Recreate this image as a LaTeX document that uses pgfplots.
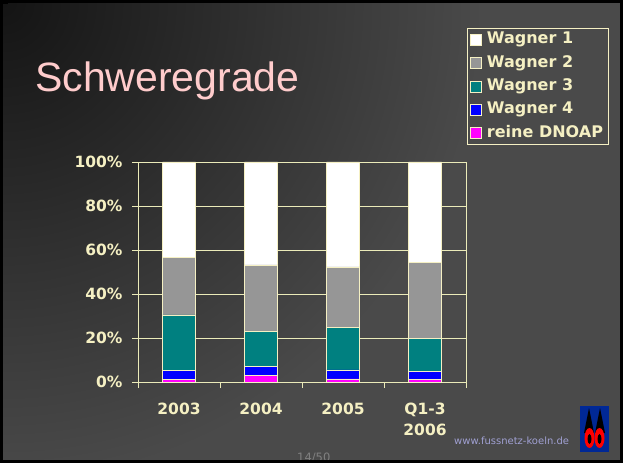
\documentclass[border=0pt]{standalone}
\usepackage{pgfplots}
\pgfplotsset{compat=1.18}
\usepackage{fontspec}
\setmainfont{DejaVu Sans}
\newfontfamily\arialfont{Liberation Sans}
\definecolor{cream}{RGB}{235,235,185}
\definecolor{crtxt}{RGB}{245,240,195}
\definecolor{titlepink}{RGB}{255,204,204}
\definecolor{wgray}{RGB}{150,150,150}
\definecolor{wteal}{RGB}{0,128,128}
\definecolor{wblue}{RGB}{0,0,255}
\definecolor{wmag}{RGB}{255,0,255}
\definecolor{bgdark}{RGB}{20,20,20}
\definecolor{bglight}{RGB}{74,74,74}
\definecolor{lavender}{RGB}{160,160,210}
\definecolor{logoblue}{RGB}{0,40,150}
\pgfplotsset{sq legend/.style={legend image code/.code={\draw[##1,draw=crtxt,line width=0.6pt] (0pt,-5.5pt) rectangle (11pt,5.5pt);}}}
\begin{document}
\begin{tikzpicture}[x=1pt,y=1pt]
\useasboundingbox (0,0) rectangle (623,463);
\fill[black] (0,0) rectangle (623,463);
\fill[bglight] (3,3) rectangle (620,460);
\begin{scope}
\clip (3,3) rectangle (620,460);
\shade[inner color=bgdark, outer color=bglight] (3,460) circle (480);
\end{scope}
\node[anchor=base west, text=titlepink, inner sep=0pt, font=\arialfont\fontsize{41}{41}\selectfont] at (35,371) {Schweregrade};
\begin{axis}[
  at={(138pt,81pt)}, anchor=south west,
  scale only axis, width=328pt, height=220pt,
  ybar stacked, bar width=33pt,
  xmin=-0.5, xmax=3.5, ymin=0, ymax=100,
  xtick={0,1,2,3}, xticklabels={2003,2004,2005,{Q1-3\\2006}},
  minor xtick={-0.5,0.5,1.5,2.5,3.5},
  ytick={0,20,40,60,80,100},
  yticklabels={0\%,20\%,40\%,60\%,80\%,100\%},
  tick pos=left, tick align=outside,
  major tick length=6pt, minor tick length=6pt,
  major x tick style={draw=none},
  ymajorgrids, grid style={cream, line width=0.7pt},
  axis line style={cream, line width=0.8pt},
  tick style={cream, line width=0.8pt},
  ticklabel style={text=crtxt, font=\bfseries\fontsize{15.5}{21}\selectfont},
  xticklabel style={align=center, yshift=-11pt},
  yticklabel style={xshift=-6pt},
  reverse legend,
  legend image post style={xshift=2.5pt},
  legend style={at={(1.003,1.609)}, anchor=north west, draw=crtxt, line width=0.8pt, fill=none,
    text=crtxt, font=\bfseries\fontsize{16}{16}\selectfont, legend cell align=left,
    column sep=3pt, row sep=4.3pt,
    nodes={inner ysep=2pt, text height=11.5pt, text depth=3.5pt}},
]
\addplot[fill=wmag, draw=crtxt, line width=0.6pt, sq legend] coordinates {(0,1.1) (1,2.9) (2,1.4) (3,1.2)};
\addplot[fill=wblue, draw=crtxt, line width=0.6pt, sq legend] coordinates {(0,4.1) (1,4.2) (2,4.1) (3,3.8)};
\addplot[fill=wteal, draw=crtxt, line width=0.6pt, sq legend] coordinates {(0,25.3) (1,15.8) (2,19.2) (3,14.8)};
\addplot[fill=wgray, draw=crtxt, line width=0.6pt, sq legend] coordinates {(0,26.3) (1,30.3) (2,27.6) (3,34.4)};
\addplot[fill=white, draw=crtxt, line width=0.6pt, sq legend] coordinates {(0,43.2) (1,46.8) (2,47.7) (3,45.8)};
\legend{reine DNOAP,Wagner 4,Wagner 3,Wagner 2,Wagner 1}
\end{axis}
\node[anchor=base west, text=lavender, inner sep=0pt, font=\fontsize{10}{10}\selectfont] at (454,19) {www.fussnetz-koeln.de};
\node[anchor=base west, text=gray, inner sep=0pt, font=\fontsize{11.5}{11.5}\selectfont] at (297,1.5) {14/50};
% logo
\fill[logoblue] (580,11) rectangle (609,57);
\fill[black] (584,30) -- (589,55) -- (594,30) -- cycle;
\fill[black] (595,30) -- (600,55) -- (605,30) -- cycle;
\fill[red] (589.5,25) ellipse (5 and 10);
\fill[red] (599.5,25) ellipse (5 and 10);
\fill[black] (589.5,24) ellipse (2 and 5);
\fill[black] (599.5,24) ellipse (2 and 5);
% frame
\draw[black, line width=3] (1.5,1.5) rectangle (621.5,461.5);
\fill[black] (0,463) rectangle (8,459);
\end{tikzpicture}
\end{document}
